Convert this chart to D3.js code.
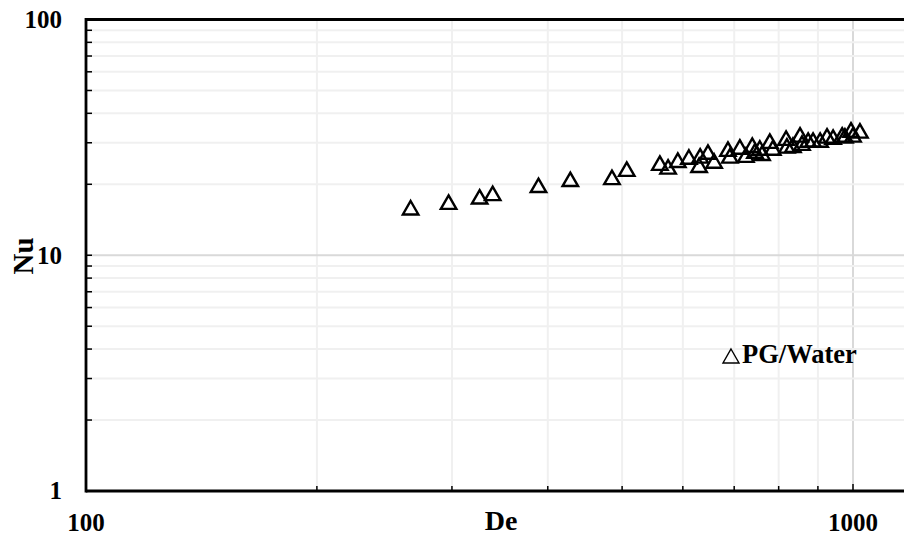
<!DOCTYPE html>
<html>
<head>
<meta charset="utf-8">
<script src="https://cdn.jsdelivr.net/npm/d3@7"></script>
<style>
  html, body { margin: 0; padding: 0; background: #fff; }
  svg { display: block; }
  text { font-family: "Liberation Serif", "Times New Roman", serif; font-weight: bold; fill: #000; }
</style>
</head>
<body>
<svg id="chart" width="904" height="536"></svg>
<script>
// Dean number (De) and Nusselt number (Nu) for the PG/Water runs
const deValues = [265, 297, 326, 339, 389, 428, 485, 507, 560, 574, 591, 611, 632, 630, 647, 659,
  687, 691, 712, 725, 739, 745, 756, 761, 779, 786, 818, 820, 835, 853, 858, 874, 887, 906,
  925, 942, 968, 976, 994, 1000, 1021];
const nuValues = [15.9, 16.8, 17.7, 18.3, 19.8, 21.0, 21.4, 23.2, 24.6, 23.7, 25.3, 26.1, 26.4, 24.1, 27.4, 25.1,
  28.2, 26.4, 28.8, 26.6, 29.3, 27.7, 28.5, 27.1, 30.5, 28.5, 31.4, 29.1, 29.3, 32.4, 29.9, 30.8, 30.8, 30.8,
  32.1, 31.7, 32.4, 32.1, 34.0, 32.4, 33.7];
const seriesName = "PG/Water";
const xTickLabels = [100, 1000];
const yTickLabels = [1, 10, 100];
const xTitle = "De";
const yTitle = "Nu";

const svg = d3.select("#chart");
const W = 904;
const plotLeft = 86, plotTop = 19.5, plotBottom = 491;
const decadePx = 767;

const x = d3.scaleLog().domain([100, 1000]).range([plotLeft, plotLeft + decadePx]);
const y = d3.scaleLog().domain([1, 100]).range([plotBottom, plotTop]);

// every 1-9 step of each decade
function logSteps(lo, hi) {
  const out = [];
  for (let p = lo; p < hi; p *= 10) for (let k = 1; k <= 9; k++) out.push(p * k);
  out.push(hi);
  return out;
}
const xGrid = logSteps(100, 1000).filter(v => v > 100);
const yGrid = logSteps(1, 100).filter(v => v > 1 && v < 100);
const isMajor = v => Math.abs(Math.log10(v) - Math.round(Math.log10(v))) < 1e-9;

// gridlines
const grid = svg.append("g");
grid.selectAll("line.gx").data(xGrid).join("line")
  .attr("x1", d => x(d)).attr("x2", d => x(d))
  .attr("y1", plotTop).attr("y2", plotBottom)
  .attr("stroke", d => isMajor(d) ? "#d9d9d9" : "#f0f0f0")
  .attr("stroke-width", 2);
grid.selectAll("line.gy").data(yGrid).join("line")
  .attr("x1", plotLeft).attr("x2", W)
  .attr("y1", d => y(d)).attr("y2", d => y(d))
  .attr("stroke", d => isMajor(d) ? "#d9d9d9" : "#f0f0f0")
  .attr("stroke-width", 2);

// inward tick marks
const ticks = svg.append("g").attr("stroke", "#000").attr("stroke-width", 1.5);
ticks.selectAll("line.tx").data(xGrid).join("line")
  .attr("x1", d => x(d)).attr("x2", d => x(d))
  .attr("y1", plotBottom).attr("y2", d => plotBottom - (isMajor(d) ? 7 : 5));
ticks.selectAll("line.ty").data(yGrid.concat([100])).join("line")
  .attr("x1", plotLeft).attr("x2", plotLeft + 6)
  .attr("y1", d => y(d)).attr("y2", d => y(d));

// frame: left, top and bottom edges
const frame = svg.append("g").attr("stroke", "#000").attr("stroke-width", 2.8).attr("fill", "none");
frame.append("line").attr("x1", plotLeft).attr("x2", W).attr("y1", plotTop).attr("y2", plotTop);
frame.append("line").attr("x1", plotLeft).attr("x2", W).attr("y1", plotBottom).attr("y2", plotBottom);
frame.append("line").attr("x1", plotLeft).attr("x2", plotLeft).attr("y1", plotTop - 1.4).attr("y2", plotBottom + 1.4);

// tick labels
svg.append("g").selectAll("text").data(yTickLabels).join("text")
  .attr("x", 62).attr("y", d => y(d)).attr("dy", "0.33em")
  .attr("text-anchor", "end").attr("font-size", 25)
  .text(d => d);
svg.append("g").selectAll("text").data(xTickLabels).join("text")
  .attr("x", d => x(d)).attr("y", 531)
  .attr("text-anchor", "middle").attr("font-size", 25)
  .text(d => d);

// axis titles
svg.append("text").attr("x", 501).attr("y", 530)
  .attr("text-anchor", "middle").attr("font-size", 28).text(xTitle);
svg.append("text").attr("transform", "translate(33,256) rotate(-90)")
  .attr("text-anchor", "middle").attr("font-size", 29).text(yTitle);

// open triangle marker centred on its bounding box
function tri(cx, cy, w, h) {
  return `M${cx},${cy - h / 2}L${cx + w / 2},${cy + h / 2}L${cx - w / 2},${cy + h / 2}Z`;
}

const points = deValues.map((d, i) => ({ de: d, nu: nuValues[i] }));
svg.append("g").selectAll("path").data(points).join("path")
  .attr("d", p => tri(x(p.de), y(p.nu), 15.5, 13.5))
  .attr("fill", "none").attr("stroke", "#000").attr("stroke-width", 2.4)
  .attr("stroke-linejoin", "miter");

// legend
const lg = svg.append("g");
lg.append("path").attr("d", tri(731, 356, 16, 14))
  .attr("fill", "none").attr("stroke", "#000").attr("stroke-width", 1.4);
lg.append("text").attr("x", 742).attr("y", 363).attr("font-size", 26.5).text(seriesName);
</script>
</body>
</html>
